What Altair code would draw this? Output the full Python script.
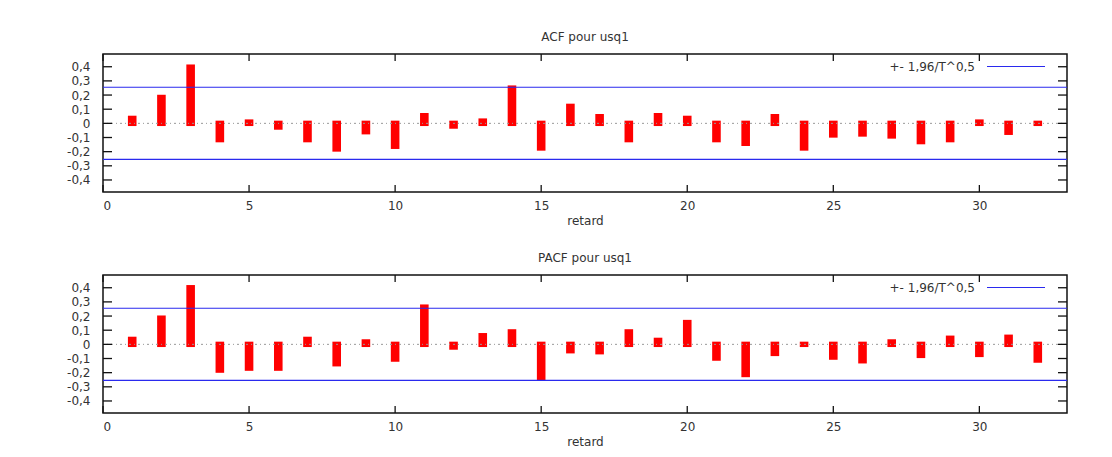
import altair as alt
import pandas as pd

# ---- data ----
lags = list(range(1, 33))
acf_values = [0.054, 0.202, 0.416, -0.134, 0.028, -0.045, -0.134, -0.200,
              -0.078, -0.181, 0.073, -0.038, 0.035, 0.268, -0.193, 0.139,
              0.066, -0.134, 0.073, 0.054, -0.134, -0.160, 0.066, -0.193,
              -0.101, -0.094, -0.108, -0.148, -0.134, 0.028, -0.082, 0.019]
pacf_values = [0.054, 0.204, 0.419, -0.201, -0.187, -0.187, 0.054, -0.156,
               0.036, -0.123, 0.282, -0.038, 0.080, 0.107, -0.256, -0.064,
               -0.071, 0.107, 0.047, 0.173, -0.116, -0.232, -0.083, 0.019,
               -0.109, -0.135, 0.036, -0.097, 0.062, -0.090, 0.069, -0.130]
band = 0.255
x_ticks = [0, 5, 10, 15, 20, 25, 30]
y_ticks = [-0.4, -0.3, -0.2, -0.1, 0.0, 0.1, 0.2, 0.3, 0.4]
titles = ["ACF pour usq1", "PACF pour usq1"]
x_title = "retard"
legend_label = "+- 1,96/T^0,5"

W, H = 964, 138
FONT = "DejaVu Sans"
FS = 12
TXT = "#333333"
xs = alt.Scale(domain=[0, 33], nice=False, zero=False)
ys = alt.Scale(domain=[-0.485, 0.49], nice=False, zero=False)
y_label_expr = ("datum.value == 0 ? '0' : "
                "replace(toString(round(datum.value*10)/10), '.', ',')")
x_axis = alt.Axis(values=x_ticks, ticks=False, tickSize=0, domain=False,
                  grid=False, labelPadding=8, labelFont=FONT, labelFontSize=FS,
                  labelColor=TXT, title=x_title, titleFont=FONT,
                  titleFontSize=FS, titleFontWeight="normal",
                  titleColor=TXT, titlePadding=4)
y_axis = alt.Axis(values=y_ticks, ticks=False, tickSize=0, domain=False,
                  grid=False, labelPadding=13, labelFont=FONT,
                  labelFontSize=FS, labelColor=TXT, title=None,
                  labelExpr=y_label_expr)


def panel(values, title):
    df = pd.DataFrame({"lag": lags, "v": values})
    bars = alt.Chart(df).transform_calculate(
        base="datum.v >= 0 ? -0.019 : 0.019"
    ).mark_rule(color="#ff0000", strokeWidth=8.6, strokeCap="butt").encode(
        x=alt.X("lag:Q", scale=xs, axis=x_axis),
        y=alt.Y("v:Q", scale=ys, axis=y_axis),
        y2="base:Q",
    )
    zero = alt.Chart(pd.DataFrame({"v": [0.0]})).mark_rule(
        color="#999999", strokeWidth=1, strokeDash=[2, 3, 1, 3]
    ).encode(y=alt.Y("v:Q", scale=ys, axis=y_axis))
    bands = alt.Chart(pd.DataFrame({"v": [band, -band]})).mark_rule(
        color="#2a2aee", strokeWidth=1.2
    ).encode(y=alt.Y("v:Q", scale=ys, axis=y_axis))
    xt = pd.DataFrame({"lag": x_ticks})
    yt = pd.DataFrame({"v": y_ticks})
    tick_style = dict(color="#111111", strokeWidth=1.3)
    xb = alt.Chart(xt).mark_rule(**tick_style).encode(
        x=alt.X("lag:Q", scale=xs, axis=x_axis), y=alt.value(H), y2=alt.value(H - 7))
    xtop = alt.Chart(xt).mark_rule(**tick_style).encode(
        x=alt.X("lag:Q", scale=xs, axis=x_axis), y=alt.value(0), y2=alt.value(7))
    yl = alt.Chart(yt).mark_rule(**tick_style).encode(
        y=alt.Y("v:Q", scale=ys, axis=y_axis), x=alt.value(0), x2=alt.value(9))
    yr = alt.Chart(yt).mark_rule(**tick_style).encode(
        y=alt.Y("v:Q", scale=ys, axis=y_axis), x=alt.value(W), x2=alt.value(W - 9))
    leg_text = alt.Chart(pd.DataFrame({"l": [legend_label]})).mark_text(
        align="right", baseline="middle", font=FONT, fontSize=FS, color=TXT
    ).encode(text="l:N", x=alt.value(872), y=alt.value(12.5))
    leg_line = alt.Chart(pd.DataFrame({"l": [legend_label]})).mark_rule(
        color="#2a2aee", strokeWidth=1.2
    ).encode(x=alt.value(884), x2=alt.value(942), y=alt.value(12.5))
    return alt.layer(bars, zero, bands, xb, xtop, yl, yr, leg_line, leg_text).properties(
        width=W, height=H,
        title=alt.TitleParams(title, font=FONT, fontSize=FS, fontWeight="normal",
                              color=TXT, anchor="middle", offset=9),
    )


chart = alt.vconcat(panel(acf_values, titles[0]), panel(pacf_values, titles[1]),
                    spacing=24).properties(
    padding={"left": 65, "top": 30, "right": 0, "bottom": 0},
    background="white",
).configure_view(stroke="#111111", strokeWidth=1.5)

chart.save("out.html", embed_options={"renderer": "svg", "actions": False})
